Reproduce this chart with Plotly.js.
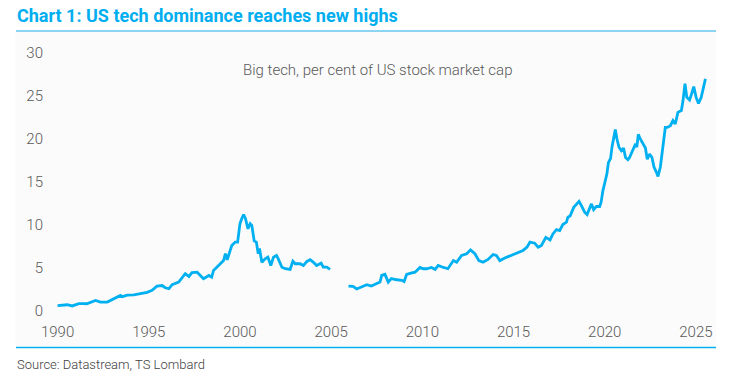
<!DOCTYPE html>
<html>
<head>
<meta charset="utf-8">
<script src="https://cdn.plot.ly/plotly-3.0.1.min.js"></script>
<style>html,body{margin:0;padding:0;background:#fff;}#chart{width:732px;height:376px;}</style>
</head>
<body>
<div id="chart"></div>
<script>
// Big tech share of US stock market cap (%)
var years = [
1990.00,1990.25,1990.53,1990.80,1991.17,1991.45,1991.60,1992.08,1992.35,1992.72,
1993.00,1993.17,1993.45,1993.55,1993.82,1994.18,1994.54,1994.91,1995.18,1995.45,
1995.73,1995.90,1996.10,1996.28,1996.64,1996.82,1997.00,1997.20,1997.37,1997.65,
1997.85,1998.00,1998.30,1998.45,1998.55,1998.83,1999.10,1999.20,1999.30,1999.55,
1999.74,1999.87,2000.00,2000.10,2000.20,2000.30,2000.44,2000.56,2000.65,2000.78,
2000.90,2001.00,2001.07,2001.20,2001.38,2001.53,2001.69,2001.84,2002.00,2002.10,
2002.30,2002.48,2002.75,2002.90,2003.03,2003.30,2003.48,2003.67,2003.85,2004.03,
2004.20,2004.45,2004.57,2004.76,2004.94,2005.40,
2005.95,2006.20,2006.40,2006.67,2006.95,2007.20,2007.50,2007.68,2007.77,2007.95,
2008.13,2008.30,2008.60,2008.87,2009.00,2009.14,2009.37,2009.60,2009.87,2010.05,
2010.23,2010.50,2010.70,2010.87,2011.15,2011.40,2011.70,2011.88,2012.15,2012.43,
2012.64,2012.88,2013.10,2013.33,2013.60,2013.88,2014.06,2014.25,2014.52,2014.90,
2015.16,2015.52,2015.74,2015.90,2016.16,2016.35,2016.53,2016.77,2017.00,2017.16,
2017.35,2017.53,2017.70,2017.90,2017.98,2018.10,2018.30,2018.59,2018.72,2018.90,
2019.03,2019.17,2019.27,2019.39,2019.54,2019.72,2019.80,2019.90,2020.05,2020.12,
2020.20,2020.32,2020.40,2020.49,2020.58,2020.67,2020.78,2020.91,2021.03,2021.14,
2021.27,2021.36,2021.47,2021.58,2021.69,2021.76,2021.84,2021.95,2022.10,2022.23,
2022.33,2022.46,2022.59,2022.70,2022.83,2022.92,2023.05,2023.16,2023.23,2023.32,
2023.43,2023.60,2023.74,2023.87,2024.01,2024.20,2024.29,2024.40,2024.50,2024.65,
2024.76,2024.88,2025.01,2025.14,2025.29,2025.40,2025.52
];
var shares = [
0.55,0.60,0.66,0.52,0.78,0.80,0.78,1.16,0.97,0.98,
1.30,1.50,1.74,1.60,1.78,1.82,1.94,2.10,2.33,2.83,
2.90,2.64,2.52,3.00,3.30,3.76,4.27,3.95,4.40,4.45,
4.00,3.70,4.07,3.87,4.65,5.20,5.80,6.60,5.90,7.55,
7.95,7.95,10.10,10.70,11.16,10.70,9.50,10.10,9.90,8.10,
7.95,6.60,7.20,5.60,6.00,6.20,5.23,6.20,6.40,6.00,
5.03,4.85,4.77,5.73,5.43,5.43,5.23,5.70,5.90,5.60,
5.23,5.50,5.03,5.03,4.77,null,
2.83,2.80,2.50,2.70,3.00,2.83,3.10,3.30,4.07,4.20,
3.30,3.70,3.57,3.50,3.37,4.20,4.35,4.45,5.00,4.85,
4.85,5.00,4.77,5.23,5.00,4.85,5.80,5.60,6.40,6.60,
7.05,6.60,5.80,5.60,5.93,6.50,6.40,5.80,6.10,6.40,
6.67,6.98,7.36,7.95,7.83,7.36,7.56,8.50,8.20,8.90,
9.40,9.30,10.00,10.27,10.85,11.00,12.00,12.70,12.20,11.43,
11.16,11.80,12.40,11.74,12.10,12.10,12.60,13.95,15.50,15.90,
17.20,17.70,19.07,19.96,21.05,19.96,19.00,18.60,18.90,17.80,
17.55,17.80,18.40,18.80,19.40,19.00,20.50,19.96,19.40,18.90,
17.60,18.20,17.80,16.70,16.10,15.60,16.70,18.80,19.80,21.30,
21.30,21.50,22.10,21.70,23.06,23.26,24.40,26.40,24.80,24.50,
25.20,26.05,24.80,24.10,24.80,25.80,26.95
];
var xTicks = [1990,1995,2000,2005,2010,2015,2020,2025];
var yTicks = [0,5,10,15,20,25,30];
var titleText = "Chart 1: US tech dominance reaches new highs";
var subtitleText = "Big tech, per cent of US stock market cap";
var sourceText = "Source: Datastream, TS Lombard";

var W = 732, H = 376;
var M = {l: 47, r: 16, t: 45, b: 57};
var PW = W - M.l - M.r, PH = H - M.t - M.b;
var cyan = "#00B0F0";
var tickFont = {family: "Roboto", size: 15, color: "#595959", weight: 300};

var trace = {
  x: years, y: shares, type: "scatter", mode: "lines",
  line: {color: cyan, width: 2.8}, connectgaps: false, hoverinfo: "skip"
};

// convert figure pixel positions to paper (plot-area) fractions
function px(x){ return (x - M.l) / PW; }
function py(y){ return (H - M.b - y) / PH; }

var layout = {
  width: W, height: H,
  paper_bgcolor: "#ffffff", plot_bgcolor: "rgba(0,0,0,0)",
  margin: M,
  showlegend: false,
  xaxis: {
    range: [1989.42, 2026.1], tickvals: xTicks, ticktext: xTicks.map(String),
    showgrid: false, zeroline: false, showline: false, ticks: "",
    tickfont: tickFont, ticklabelstandoff: 2
  },
  yaxis: {
    range: [-1.0, 30.9], tickvals: yTicks, ticktext: yTicks.map(String),
    showgrid: false, zeroline: false, showline: false, ticks: "",
    tickfont: tickFont, ticklabelstandoff: 3
  },
  shapes: [
    {type: "rect", xref: "paper", yref: "paper", layer: "below",
     x0: px(15), x1: px(716), y0: py(346), y1: py(32),
     fillcolor: "#FBFBFB", line: {width: 0}},
    {type: "line", xref: "paper", yref: "paper",
     x0: px(16), x1: px(716), y0: py(31), y1: py(31),
     line: {color: "#1AA9E3", width: 1.2}},
    {type: "line", xref: "paper", yref: "paper",
     x0: px(16), x1: px(716), y0: py(347.5), y1: py(347.5),
     line: {color: cyan, width: 1.5}}
  ],
  annotations: [
    {text: "<b>" + titleText + "</b>", xref: "paper", yref: "paper",
     x: px(15), y: py(16), xanchor: "left", yanchor: "middle", showarrow: false,
     font: {family: "Roboto", size: 18, color: "#00AEEF"}},
    {text: subtitleText, xref: "paper", yref: "paper",
     x: px(377), y: py(70), xanchor: "center", yanchor: "middle", showarrow: false,
     font: {family: "Roboto", size: 15, color: "#595959", weight: 300}},
    {text: sourceText, xref: "paper", yref: "paper",
     x: px(15), y: py(364), xanchor: "left", yanchor: "middle", showarrow: false,
     font: {family: "Roboto", size: 13, color: "#404040", weight: 300}}
  ]
};

Plotly.newPlot("chart", [trace], layout, {displayModeBar: false, staticPlot: true});
</script>
</body>
</html>
